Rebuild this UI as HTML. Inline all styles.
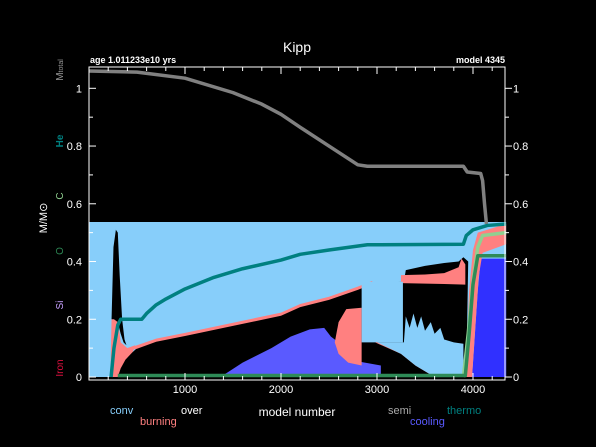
<!DOCTYPE html>
<html><head><meta charset="utf-8">
<style>
html,body{margin:0;padding:0;background:#000;}
svg{display:block;font-family:"Liberation Sans",sans-serif;}
</style></head>
<body>
<svg id="chart" width="596" height="447" viewBox="0 0 596 447">
<rect width="596" height="447" fill="#000"/>
<g id="regions"></g>
<g id="lines"></g>
<g id="axes"></g>
<text x="297" y="52" fill="#fff" font-size="14" text-anchor="middle">Kipp</text>
<text x="90" y="63" fill="#fff" font-size="9" font-weight="bold">age 1.011233e10 yrs</text>
<text x="505" y="63" fill="#fff" font-size="9" font-weight="bold" text-anchor="end">model 4345</text>
<text x="297" y="416" fill="#fff" font-size="12" text-anchor="middle">model number</text>
<text transform="translate(47,218) rotate(-90)" fill="#fff" font-size="11" text-anchor="middle">M/M⊙</text>
<text transform="translate(63,70) rotate(-90)" fill="#999" font-size="10" text-anchor="middle">M<tspan font-size="7">total</tspan></text>
<text transform="translate(63,141) rotate(-90)" fill="#008080" font-size="10" font-weight="bold" text-anchor="middle">He</text>
<text transform="translate(63,196) rotate(-90)" fill="#90d090" font-size="10" text-anchor="middle">C</text>
<text transform="translate(63,251) rotate(-90)" fill="#2e8b57" font-size="10" text-anchor="middle">O</text>
<text transform="translate(63,305) rotate(-90)" fill="#c8a0ff" font-size="10" text-anchor="middle">Si</text>
<text transform="translate(63,368) rotate(-90)" fill="#e01040" font-size="10" text-anchor="middle">Iron</text>
<text x="110" y="414" fill="#87cefa" font-size="11">conv</text>
<text x="140" y="425" fill="#ff8080" font-size="11">burning</text>
<text x="181" y="414" fill="#fff" font-size="11">over</text>
<text x="388" y="414" fill="#aaa" font-size="11">semi</text>
<text x="410" y="425" fill="#5a5aff" font-size="11">cooling</text>
<text x="447" y="414" fill="#008080" font-size="11">thermo</text>
<script>
const xTicks=[1000,2000,3000,4000];
const yTicks=[0,0.2,0.4,0.6,0.8,1];
const convRegion=[[0,0],[0,0.537],[4345,0.537],[4345,0]];
const pinkLow=[[225,0.04],[235,0.2],[300,0.2],[330,0.12],[400,0.1],[480,0.11],[450,0.08],[380,0.05],[330,0.02],[300,0],[240,0]];
const blackMain=[[300,0],[330,0.03],[380,0.06],[450,0.085],[500,0.1],[700,0.125],[1000,0.145],[1500,0.18],[2000,0.215],[2200,0.245],[2500,0.27],[2800,0.305],[2950,0.325],[3280,0.33],[3300,0.37],[3500,0.385],[3700,0.395],[3850,0.4],[3900,0.415],[3950,0.4],[3930,0]];
const pinkEdge=[[400,0.1],[500,0.11],[700,0.133],[1000,0.153],[1500,0.188],[2000,0.223],[2200,0.253],[2500,0.278],[2800,0.313],[2950,0.333],[2950,0.322],[2800,0.302],[2500,0.267],[2200,0.242],[2000,0.212],[1500,0.177],[1000,0.142],[700,0.122],[500,0.098],[400,0.09]];
const blackSpike=[[235,0.2],[255,0.45],[280,0.51],[300,0.5],[320,0.35],[345,0.2],[370,0.13],[390,0.11],[360,0.12],[330,0.15],[300,0.19],[260,0.2]];
const pinkTop=[[3250,0.353],[3500,0.355],[3700,0.36],[3850,0.38],[3880,0.41],[3920,0.39],[3920,0.32],[3700,0.322],[3250,0.325]];
const coolingHump=[[1370,0],[1600,0.05],[1900,0.1],[2100,0.14],[2300,0.165],[2450,0.17],[2520,0.14],[2600,0.12],[2700,0.06],[3040,0.04],[3040,0],[1370,0]];
const pinkHalf=[[2560,0.12],[2600,0.19],[2680,0.235],[2840,0.24],[2840,0.04],[2700,0.05],[2600,0.08]];
const semiColumn=[[2840,0.12],[2840,0.33],[3270,0.33],[3270,0.12]];
const fingers=[[3000,0.12],[3280,0.12],[3300,0.21],[3340,0.17],[3380,0.22],[3420,0.17],[3460,0.21],[3500,0.16],[3560,0.19],[3600,0.15],[3660,0.17],[3700,0.13],[3800,0.12],[3900,0.115],[3900,0],[3600,0],[3400,0.04],[3250,0.08]];
const pinkFingerEdge=[[2980,0.12],[3250,0.08],[3400,0.04],[3600,0],[3650,0],[3420,0.06],[3250,0.1],[3020,0.12]];
const blueRight=[[3990,0],[4050,0.3],[4080,0.41],[4345,0.41],[4345,0]];
const pinkRight=[[3920,0],[3960,0.3],[4000,0.44],[4050,0.5],[4345,0.53],[4345,0.46],[4100,0.43],[4060,0.35],[4020,0.15],[3990,0]];
const heCore=[[230,0],[260,0.1],[300,0.18],[330,0.2],[550,0.2],[600,0.22],[700,0.25],[800,0.27],[1000,0.305],[1300,0.345],[1600,0.375],[2000,0.405],[2200,0.425],[2500,0.44],[2900,0.458],[3900,0.46],[3930,0.49],[4000,0.51],[4150,0.525],[4345,0.53]];
const mTotal=[[0,1.06],[500,1.056],[1000,1.035],[1500,0.985],[1800,0.945],[2000,0.91],[2200,0.865],[2500,0.8],[2800,0.735],[2900,0.73],[3900,0.73],[3940,0.71],[4080,0.705],[4100,0.68],[4120,0.6],[4140,0.53]];
const cCore=[[3900,0],[3950,0.15],[4000,0.33],[4050,0.45],[4100,0.49],[4345,0.5]];
const oCore=[[300,0.005],[3920,0.005],[3960,0.15],[4000,0.32],[4050,0.42],[4345,0.42]];
const X0=89,X1=505,Y0=377,YS=288.7,XS=0.096;
function xs(m){return X0+m*XS;}
function ys(v){return Y0-v*YS;}
const NS='http://www.w3.org/2000/svg';
const R=document.getElementById('regions'),L=document.getElementById('lines'),A=document.getElementById('axes');
function poly(pts,fill,name){const p=document.createElementNS(NS,'polygon');p.setAttribute('points',pts.map(q=>xs(q[0])+','+ys(q[1])).join(' '));p.setAttribute('fill',fill);


R.appendChild(p);}
function line(pts,col,w,name){const p=document.createElementNS(NS,'polyline');p.setAttribute('points',pts.map(q=>xs(q[0])+','+ys(q[1])).join(' '));p.setAttribute('fill','none');p.setAttribute('stroke',col);p.setAttribute('stroke-width',w);p.setAttribute('stroke-linejoin','round');


L.appendChild(p);}
poly(convRegion,'#87cefa','conv-region');
poly(pinkLow,'#ff8080','burning-early');
poly(blackMain,'#000','radiative-core');
poly(pinkEdge,'#ff8080','burning-shell');
poly(blackSpike,'#000','radiative-spike');
poly(pinkTop,'#ff8080','burning-upper');
poly(coolingHump,'#5a5aff','cooling-region');
poly(pinkHalf,'#ff8080','burning-flash');
poly(semiColumn,'#87cefa','conv-column');
poly(pinkFingerEdge,'#ff8080','burning-finger-edge');
poly(fingers,'#87cefa','conv-fingers');
poly(blueRight,'#3030ff','cooling-core');
poly(pinkRight,'#ff8080','burning-late');
line(mTotal,'#808080',3.5,'mtotal-line');
line(heCore,'#008080',3.5,'he-core-line');
line(cCore,'#90d090',3.5,'c-core-line');
line(oCore,'#2e8b57',3.5,'o-core-line');
function el(tag,attrs,parent){const e=document.createElementNS(NS,tag);for(const k in attrs)e.setAttribute(k,attrs[k]);parent.appendChild(e);return e;}
const fr=el('rect',{x:X0,y:67,width:X1-X0,height:313,fill:'none',stroke:'#fff','stroke-width':1},A);


for(let m=200;m<4345;m+=200){const big=m%1000===0,len=big?7:4;
el('line',{x1:xs(m),x2:xs(m),y1:380,y2:380-len,stroke:'#fff'},A);
el('line',{x1:xs(m),x2:xs(m),y1:67,y2:67+len,stroke:'#fff'},A);}
xTicks.forEach(m=>{const t=el('text',{x:xs(m),y:393,fill:'#fff','font-size':11,'text-anchor':'middle'},A);t.textContent=m;

});
for(let v=0;v<=1.05;v+=0.1){const big=Math.round(v*10)%2===0,len=big?7:4;
el('line',{x1:X0,x2:X0+len,y1:ys(v),y2:ys(v),stroke:'#fff'},A);
el('line',{x1:X1,x2:X1+len,y1:ys(v),y2:ys(v),stroke:'#fff'},A);}
yTicks.forEach(v=>{const a=el('text',{x:82,y:ys(v)+4,fill:'#fff','font-size':11,'text-anchor':'end'},A);a.textContent=String(v);


const b=el('text',{x:513,y:ys(v)+4,fill:'#fff','font-size':11},A);b.textContent=String(v);

});
</script>
</svg>
</body></html>
